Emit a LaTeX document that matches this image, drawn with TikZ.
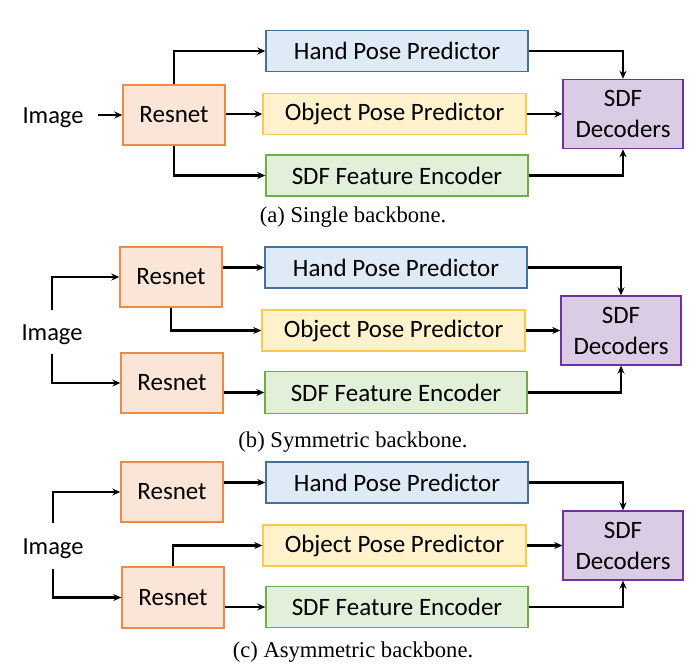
\documentclass[tikz,border=0pt]{standalone}
\usepackage{fontspec}
\setmainfont{Carlito}
\newfontfamily\capfont{Liberation Serif}
\usetikzlibrary{arrows.meta}
\definecolor{handfill}{HTML}{DEEAF6}
\definecolor{handline}{HTML}{41719C}
\definecolor{objfill}{HTML}{FFF2CC}
\definecolor{objline}{HTML}{FFC94A}
\definecolor{encfill}{HTML}{E2EFD9}
\definecolor{encline}{HTML}{70AD47}
\definecolor{resfill}{HTML}{FBE5D6}
\definecolor{resline}{HTML}{ED8A4A}
\definecolor{decfill}{HTML}{DBCCE5}
\definecolor{decline}{HTML}{7030A0}
\tikzset{
  box/.style={draw, line width=1.4pt, inner sep=0pt, align=center, font=\fontsize{25}{31}\selectfont},
  wide/.style={box, minimum width=262pt, minimum height=41pt},
  handbox/.style={wide, fill=handfill, draw=handline},
  objbox/.style={wide, fill=objfill, draw=objline},
  encbox/.style={wide, fill=encfill, draw=encline},
  resbox/.style={box, fill=resfill, draw=resline, minimum width=102pt, minimum height=60pt},
  decbox/.style={box, fill=decfill, draw=decline, minimum width=120pt, minimum height=69pt},
  imgtext/.style={inner sep=0pt, text height=16pt, text depth=5pt, font=\fontsize{24.5}{28}\selectfont},
  captext/.style={inner sep=0pt, font=\capfont\fontsize{22.6}{26}\selectfont},
  conn/.style={line width=2.1pt, -{Stealth[length=8pt,width=7pt]}}
}
\begin{document}
\begin{tikzpicture}[x=1pt,y=-1pt]
\useasboundingbox (0,0) rectangle (692,667);
% ---------- (a) ----------
\node[imgtext, anchor=base] (ia) at (53,123) {Image};
\node[resbox] (ra) at (174,115) {Resnet};
\node[handbox] (ha) at (397,51) {Hand Pose Predictor};
\node[objbox, minimum width=263pt] (oa) at (394.5,114) {Object Pose Predictor};
\node[encbox] (ea) at (397,175.5) {SDF Feature Encoder};
\node[decbox] (da) at (623,114) {SDF\\Decoders};
\node[captext] (ca) at (353,217.5) {(a) Single backbone.};
\draw[conn] ([xshift=14pt]ia.east |- ra.west) -- (ra.west);
\draw[conn] (ra.north) |- (ha.west);
\draw[conn] (ra.east |- oa.west) -- (oa.west);
\draw[conn] (ra.south) |- (ea.west);
\draw[conn] (ha.east) -| (da.north);
\draw[conn] (oa.east) -- (da.west);
\draw[conn] (ea.east) -| (da.south);
% ---------- (b) ----------
\node[imgtext, anchor=base] (ib) at (52,340) {Image};
\node[resbox] (rb1) at (171,277) {Resnet};
\node[resbox] (rb2) at (172,383) {Resnet};
\node[handbox] (hb) at (396,267.5) {Hand Pose Predictor};
\node[objbox, minimum width=263pt] (ob) at (393.5,330.5) {Object Pose Predictor};
\node[encbox, minimum height=42pt] (eb) at (396,392.5) {SDF Feature Encoder};
\node[decbox] (db) at (621,330.5) {SDF\\Decoders};
\node[captext] (cb) at (353,442) {(b) Symmetric backbone.};
\draw[conn] ([yshift=14pt]ib.north) |- (rb1.west);
\draw[conn] ([yshift=-9pt]ib.south) |- (rb2.west);
\draw[conn] (rb1.east |- hb.west) -- (hb.west);
\draw[conn] (rb1.south) |- (ob.west);
\draw[conn] (rb2.east |- eb.west) -- (eb.west);
\draw[conn] (hb.east) -| (db.north);
\draw[conn] (ob.east) -- (db.west);
\draw[conn] (eb.east) -| (db.south);
% ---------- (c) ----------
\node[imgtext, anchor=base] (ic) at (53,554) {Image};
\node[resbox] (rc1) at (172,492) {Resnet};
\node[resbox, minimum height=61pt] (rc2) at (173,597.5) {Resnet};
\node[handbox] (hc) at (397,482.5) {Hand Pose Predictor};
\node[objbox, minimum width=263pt] (oc) at (394.5,545.5) {Object Pose Predictor};
\node[encbox] (ec) at (397,607) {SDF Feature Encoder};
\node[decbox] (dc) at (623,545.5) {SDF\\Decoders};
\node[captext] (cc) at (353,652) {(c) Asymmetric backbone.};
\draw[conn] ([yshift=15pt]ic.north) |- (rc1.west);
\draw[conn] ([yshift=-10pt]ic.south) |- (rc2.west);
\draw[conn] (rc1.east |- hc.west) -- (hc.west);
\draw[conn] (rc2.north) |- (oc.west);
\draw[conn] (rc2.east |- ec.west) -- (ec.west);
\draw[conn] (hc.east) -| (dc.north);
\draw[conn] (oc.east) -- (dc.west);
\draw[conn] (ec.east) -| (dc.south);
\end{tikzpicture}
\end{document}
